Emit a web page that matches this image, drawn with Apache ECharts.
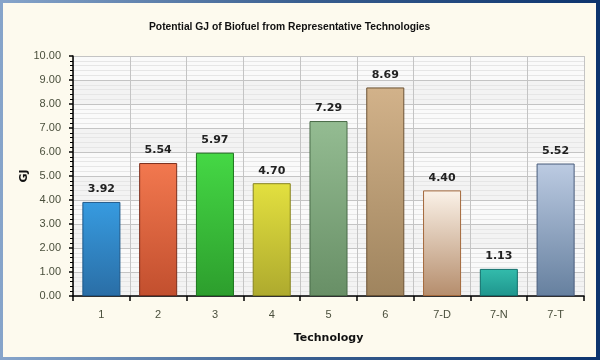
<!DOCTYPE html>
<html>
<head>
<meta charset="utf-8">
<script src="https://cdn.jsdelivr.net/npm/echarts@6/dist/echarts.min.js"></script>
<style>
html,body{margin:0;padding:0;}
#wrap{position:relative;width:600px;height:360px;}
#chart{position:absolute;left:0;top:0;width:600px;height:360px;background:#fdfaee;}
#frame{position:absolute;left:0;top:0;width:600px;height:360px;box-sizing:border-box;pointer-events:none;
border-style:solid;border-width:3px 4px 3px 3px;border-image:linear-gradient(to right,#86a4ca,#3a5f90 50%,#0d346e) 1;}
</style>
</head>
<body>
<div id="wrap"><div id="chart"></div><div id="frame"></div></div>
<script>
var categories = ['1','2','3','4','5','6','7-D','7-N','7-T'];
var values = [3.92, 5.54, 5.97, 4.70, 7.29, 8.69, 4.40, 1.13, 5.52];
var yTicks = [0,1,2,3,4,5,6,7,8,9,10];
var barColors = [
  ['#379be0','#2a6ea6','#1d5687'],
  ['#f2784f','#c24f2e','#7b2e1c'],
  ['#45d845','#2d9e2d','#1d761d'],
  ['#e3e03f','#aeaa2e','#85821e'],
  ['#94bc92','#688f66','#4a6b48'],
  ['#d2b28a','#9f845e','#6b5233'],
  ['#fbf2e8','#b58d6c','#a4693c'],
  ['#33bcac','#1f958d','#116e6a'],
  ['#bccbe2','#66809f','#485c7b']
];
var chart = echarts.init(document.getElementById('chart'));
var data = values.map(function(v,i){
  var c = barColors[i];
  return {value:v, itemStyle:{
    color:new echarts.graphic.LinearGradient(0,0,0,1,[{offset:0,color:c[0]},{offset:1,color:c[1]}]),
    borderColor:c[2], borderWidth:1
  }};
});
chart.setOption({
  animation:false,
  title:{text:'Potential GJ of Biofuel from Representative Technologies',left:144,top:17,
    textStyle:{fontFamily:'Liberation Sans',fontWeight:'bold',fontSize:10.3,color:'#111'}},
  grid:{left:73,right:16,top:56,bottom:64},
  xAxis:{type:'category',data:categories,
    name:'Technology',nameLocation:'middle',nameGap:37,nameMoveOverlap:false,
    nameTextStyle:{fontFamily:'DejaVu Sans',fontWeight:'bold',fontSize:11,color:'#111'},
    axisLine:{lineStyle:{color:'#000',width:1.5}},
    axisTick:{show:true,length:5,lineStyle:{color:'#000',width:1.5}},
    axisLabel:{fontFamily:'Liberation Sans',fontSize:11,color:'#4a4f3c',margin:13},
    splitLine:{show:true,lineStyle:{color:'#c4c4c4'}}
  },
  yAxis:{type:'value',min:yTicks[0],max:yTicks[yTicks.length-1],interval:1,
    name:'GJ',nameLocation:'middle',nameGap:43,nameMoveOverlap:false,
    nameTextStyle:{fontFamily:'DejaVu Sans',fontWeight:'bold',fontSize:11,color:'#111'},
    axisLine:{show:true,lineStyle:{color:'#000',width:1.5}},
    axisTick:{show:true,length:4,lineStyle:{color:'#000',width:1.5}},
    minorTick:{show:true,splitNumber:5,length:3,lineStyle:{color:'#000'}},
    axisLabel:{fontFamily:'Liberation Sans',fontSize:11,color:'#4a4f3c',margin:12,
      formatter:function(v){return v.toFixed(2);}},
    splitLine:{show:true,lineStyle:{color:'#c4c4c4'}},
    minorSplitLine:{show:true,lineStyle:{color:'#e6e6e6'}},
    splitArea:{show:true,areaStyle:{color:['#f3f3f3','#fafafa']}}
  },
  series:[{type:'bar',data:data,barWidth:'67%',
    label:{show:true,position:'top',distance:7,fontFamily:'DejaVu Sans',fontWeight:'bold',fontSize:11,color:'#222',
      formatter:function(p){return p.value.toFixed(2);}}
  }]
});
</script>
</body>
</html>
